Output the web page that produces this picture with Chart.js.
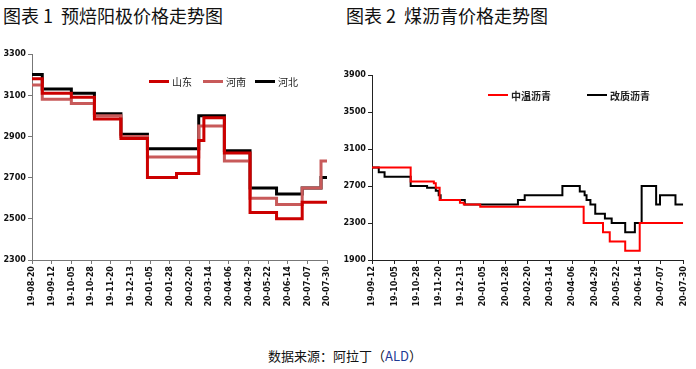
<!DOCTYPE html>
<html>
<head>
<meta charset="utf-8">
<script src="https://cdn.jsdelivr.net/npm/chart.js@4"></script>
<style>
  body { margin: 0; background: #fff; width: 696px; height: 369px; position: relative; overflow: hidden; }
  .title { position: absolute; top: 3px; font: 18px "Noto Sans CJK SC", sans-serif; color: #111; line-height: 24px; white-space: pre; }
  #foot { position: absolute; left: 268px; top: 346px; font: 13px "Noto Sans CJK SC", sans-serif; color: #111; line-height: 20px; }
  #foot span { color: #1f3a93; }
  canvas { position: absolute; }
</style>
</head>
<body>
<div class="title" style="left:3px">图表 1  预焙阳极价格走势图</div>
<div class="title" style="left:346px">图表 2  煤沥青价格走势图</div>
<canvas id="anode" width="340" height="300" style="left:0;top:40px"></canvas>
<canvas id="pitch" width="356" height="300" style="left:340px;top:40px"></canvas>
<div id="foot">数据来源：阿拉丁（<span>ALD</span>）</div>
<script>
// chart 1: 预焙阳极 (price changes: date -> new price)
var anodeStart = '2019-08-20';
var anodeTicks = ['19-08-20','19-09-12','19-10-05','19-10-28','19-11-20','19-12-13','20-01-05','20-01-28',
                  '20-02-20','20-03-14','20-04-06','20-04-29','20-05-22','20-06-14','20-07-07','20-07-30'];
var sdDates = ['2019-08-20','2019-09-01','2019-10-05','2019-11-01','2019-12-02','2020-01-02','2020-02-05',
               '2020-03-02','2020-03-08','2020-04-01','2020-05-01','2020-06-01','2020-07-01','2020-07-30'];
var sdValues = [3180, 3110, 3090, 2985, 2890, 2700, 2720, 2880, 2990, 2820, 2530, 2500, 2580, 2580];
var hnDates = ['2019-08-20','2019-09-01','2019-10-05','2019-11-01','2019-12-02','2020-01-02','2020-03-02',
               '2020-04-01','2020-05-01','2020-06-01','2020-07-01','2020-07-23','2020-07-30'];
var hnValues = [3150, 3080, 3060, 3000, 2900, 2800, 2950, 2780, 2600, 2570, 2650, 2780, 2780];
var hbDates = ['2019-08-20','2019-09-01','2019-10-05','2019-11-01','2019-12-02','2020-01-02','2020-03-02',
               '2020-04-01','2020-05-01','2020-06-01','2020-07-01','2020-07-23','2020-07-30'];
var hbValues = [3200, 3130, 3110, 3010, 2910, 2840, 3000, 2830, 2650, 2620, 2650, 2700, 2700];

// chart 2: 煤沥青
var pitchStart = '2019-09-12';
var pitchTicks = ['19-09-12','19-10-05','19-10-28','19-11-20','19-12-13','20-01-05','20-01-28','20-02-20',
                  '20-03-14','20-04-06','20-04-29','20-05-22','20-06-14','20-07-07','20-07-30'];
var mtDates = ['2019-09-12','2019-10-22','2019-11-15','2019-11-17','2019-11-21','2019-12-12','2019-12-16',
               '2020-01-02','2020-04-18','2020-05-08','2020-05-15','2020-05-31','2020-06-15','2020-07-30'];
var mtValues = [2900, 2750, 2730, 2680, 2550, 2520, 2500, 2475, 2300, 2200, 2100, 2000, 2300, 2300];
var gzDates = ['2019-09-12','2019-09-19','2019-09-25','2019-10-22','2019-11-08','2019-11-17','2019-11-20',
               '2019-11-22','2019-12-17','2020-02-10','2020-02-17','2020-03-27','2020-04-14','2020-04-19',
               '2020-04-21','2020-04-25','2020-04-30','2020-05-10','2020-05-17','2020-05-31','2020-06-10',
               '2020-06-17','2020-07-02','2020-07-06','2020-07-22','2020-07-30'];
var gzValues = [2900, 2850, 2800, 2700, 2680, 2650, 2600, 2550, 2500, 2550, 2600, 2700, 2640, 2600,
                2550, 2500, 2400, 2350, 2300, 2200, 2300, 2700, 2500, 2600, 2500, 2500];

function dayOf(start, d) {
  return (Date.parse(d) - Date.parse(start)) / 86400000;
}
function series(start, dates, values) {
  return dates.map(function (d, i) { return { x: dayOf(start, d), y: values[i] }; });
}

var tickFont = { family: '"Liberation Sans Narrow", "DejaVu Sans Condensed", sans-serif', size: 9, weight: 'bold' };

var fixedLegend = {
  id: 'fixedLegend',
  afterDraw: function (chart, args, opts) {
    var ctx = chart.ctx;
    ctx.save();
    chart.data.datasets.forEach(function (ds, i) {
      var x = opts.xs[i], y = opts.y;
      ctx.strokeStyle = ds.borderColor;
      ctx.lineWidth = ds.borderWidth;
      ctx.beginPath();
      ctx.moveTo(x, y);
      ctx.lineTo(x + opts.len, y);
      ctx.stroke();
      ctx.fillStyle = '#222';
      ctx.font = opts.font;
      ctx.textBaseline = 'middle';
      ctx.fillText(ds.label, x + opts.len + 3, y + 1);
    });
    ctx.restore();
  }
};

function xAxis(span, labels, color) {
  return {
    type: 'linear', min: 0, max: span,
    afterBuildTicks: function (scale) {
      scale.ticks = labels.map(function (l, i) { return { value: i * 23 }; });
    },
    afterFit: function (scale) { scale.height = 60; },
    ticks: {
      autoSkip: false, minRotation: 90, maxRotation: 90, color: '#111', font: tickFont, padding: 2,
      callback: function (v, i) { return labels[i]; }
    },
    grid: { drawOnChartArea: false, tickLength: 4, color: color },
    border: { color: color, width: 1 }
  };
}
function yAxis(min, max, step, color) {
  return {
    min: min, max: max,
    afterFit: function (scale) { scale.width = 32; },
    ticks: { stepSize: step, color: '#111', font: tickFont, padding: 2,
             callback: function (v) { return String(v); } },
    grid: { drawOnChartArea: false, tickLength: 4, color: color },
    border: { color: color, width: 1 }
  };
}

var anodeChart = new Chart(document.getElementById('anode'), {
  type: 'line',
  data: {
    datasets: [{
      label: '山东',
      data: series(anodeStart, sdDates, sdValues),
      borderColor: '#cc0000',
      borderWidth: 3
    }, {
      label: '河南',
      data: series(anodeStart, hnDates, hnValues),
      borderColor: '#c85a5a',
      borderWidth: 3
    }, {
      label: '河北',
      data: series(anodeStart, hbDates, hbValues),
      borderColor: '#000000',
      borderWidth: 3
    }]
  },
  options: {
    responsive: false, animation: false, devicePixelRatio: 1,
    elements: { point: { radius: 0 }, line: { stepped: true, tension: 0, borderCapStyle: 'butt' } },
    layout: { padding: { top: 14, right: 13, bottom: 20, left: 0 } },
    scales: {
      x: xAxis(345, anodeTicks, '#777'),
      y: yAxis(2300, 3300, 200, '#777')
    },
    plugins: {
      legend: { display: false }, tooltip: { enabled: false },
      fixedLegend: { xs: [149, 203, 255], y: 41.5, len: 20, font: '10px "Noto Sans CJK SC", sans-serif' }
    }
  },
  plugins: [fixedLegend]
});

var pitchChart = new Chart(document.getElementById('pitch'), {
  type: 'line',
  data: {
    datasets: [{
      label: '中温沥青',
      data: series(pitchStart, mtDates, mtValues),
      borderColor: '#ff0000',
      borderWidth: 2
    }, {
      label: '改质沥青',
      data: series(pitchStart, gzDates, gzValues),
      borderColor: '#000000',
      borderWidth: 2
    }]
  },
  options: {
    responsive: false, animation: false, devicePixelRatio: 1,
    elements: { point: { radius: 0 }, line: { stepped: true, tension: 0, borderCapStyle: 'butt' } },
    layout: { padding: { top: 35, right: 8, bottom: 20, left: 0 } },
    scales: {
      x: xAxis(322, pitchTicks, '#222'),
      y: yAxis(1900, 3900, 400, '#222')
    },
    plugins: {
      legend: { display: false }, tooltip: { enabled: false },
      fixedLegend: { xs: [148, 247], y: 55, len: 20, font: 'bold 10px "Noto Sans CJK SC", sans-serif' }
    }
  },
  plugins: [fixedLegend]
});
</script>
</body>
</html>
